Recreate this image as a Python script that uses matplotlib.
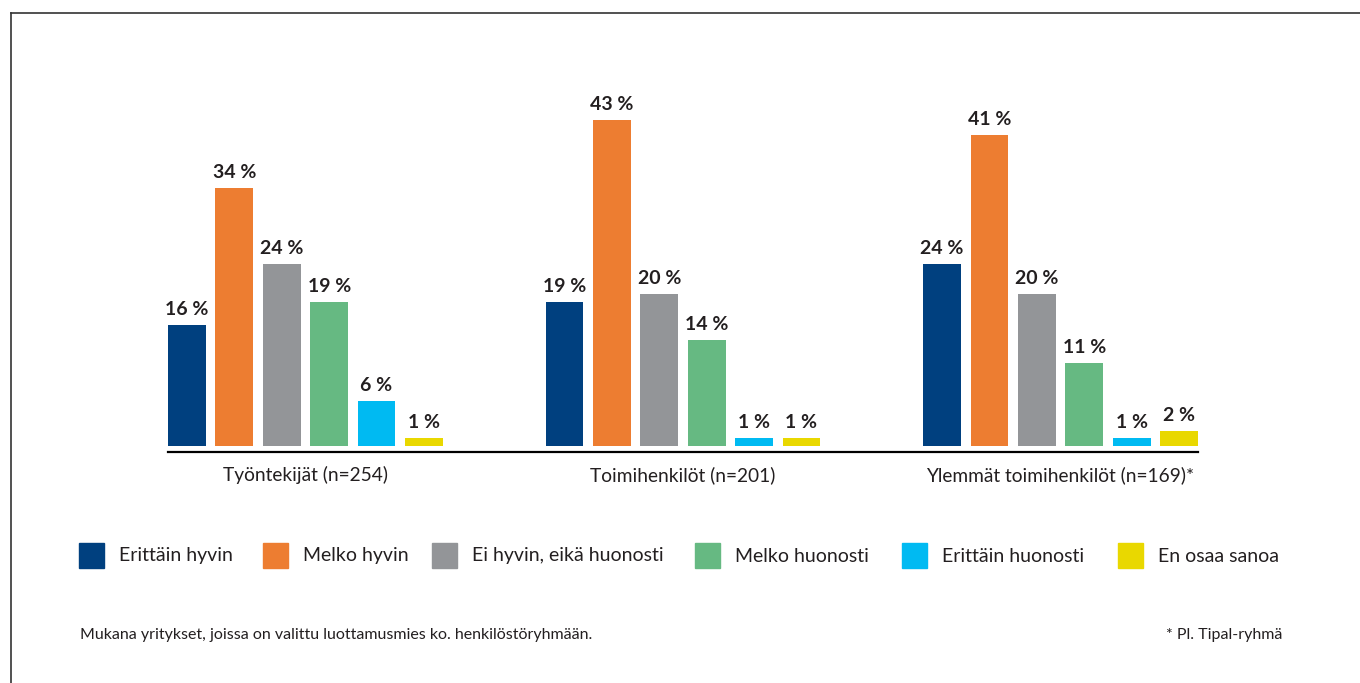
import matplotlib
matplotlib.use("Agg")
import matplotlib.pyplot as plt
from matplotlib.patches import Rectangle
from matplotlib.lines import Line2D
import numpy as np

plt.rcParams['font.family'] = ['Lato', 'DejaVu Sans']

groups = ["Työntekijät (n=254)", "Toimihenkilöt (n=201)", "Ylemmät toimihenkilöt (n=169)*"]
answers = ["Erittäin hyvin", "Melko hyvin", "Ei hyvin, eikä huonosti",
           "Melko huonosti", "Erittäin huonosti", "En osaa sanoa"]
erittain_hyvin = [16, 19, 24]
melko_hyvin = [34, 43, 41]
ei_hyvin_eika_huonosti = [24, 20, 20]
melko_huonosti = [19, 14, 11]
erittain_huonosti = [6, 1, 1]
en_osaa_sanoa = [1, 1, 2]
colors = ["#00407F", "#ED7D31", "#939598", "#66B982", "#00BAF2", "#E9D800"]
footnote_left = "Mukana yritykset, joissa on valittu luottamusmies ko. henkilöstöryhmään."
footnote_right = "* Pl. Tipal-ryhmä"

series = [erittain_hyvin, melko_hyvin, ei_hyvin_eika_huonosti,
          melko_huonosti, erittain_huonosti, en_osaa_sanoa]

W, H = 1360, 683
fig = plt.figure(figsize=(W / 100, H / 100), dpi=100)
ax = fig.add_axes([168 / W, (H - 452) / H, (1198 - 168) / W, (452 - 72) / H])

step = 0.1255
width = 0.1004
x = np.arange(len(groups))
text_color = "#231F20"
for j, (vals, col) in enumerate(zip(series, colors)):
    pos = x + (j - 2.5) * step
    bars = ax.bar(pos, vals, width=width, color=col, zorder=2)
    for b, v in zip(bars, vals):
        ax.annotate(f"{v} %", (b.get_x() + b.get_width() / 2, v),
                    xytext=(0, 5), textcoords="offset points",
                    ha="center", va="bottom", fontsize=14,
                    fontweight="bold", color=text_color)

ax.set_xlim(-0.364, 2.364)
ax.set_ylim(-0.79, 49.34)
for s in ["top", "right", "left"]:
    ax.spines[s].set_visible(False)
ax.spines["bottom"].set_color("black")
ax.spines["bottom"].set_linewidth(1.6)
ax.set_yticks([])
ax.set_xticks(x)
ax.set_xticklabels(groups, fontsize=13.8, color=text_color)
ax.tick_params(axis="x", length=0, pad=10)

# legend row
sq_x = [79, 263, 432, 695, 902, 1118]
for lx, lab, col in zip(sq_x, answers, colors):
    fig.patches.append(Rectangle((lx / W, (H - 568) / H), 25 / W, 25 / H,
                                 transform=fig.transFigure, color=col))
    fig.text((lx + 40) / W, (H - 556) / H, lab, fontsize=14,
             color=text_color, va="center", ha="left")

fig.text(80 / W, (H - 635) / H, footnote_left, fontsize=11.5,
         color=text_color, va="center", ha="left")
fig.text(1282 / W, (H - 635) / H, footnote_right, fontsize=11.5,
         color=text_color, va="center", ha="right")

# frame lines
fig.add_artist(Line2D([11 / W, 1], [(H - 13) / H, (H - 13) / H],
                      transform=fig.transFigure, color="#333333", lw=1.2))
fig.add_artist(Line2D([11 / W, 11 / W], [0, (H - 13) / H],
                      transform=fig.transFigure, color="#333333", lw=1.2))

fig.savefig("out.png", dpi=100)
